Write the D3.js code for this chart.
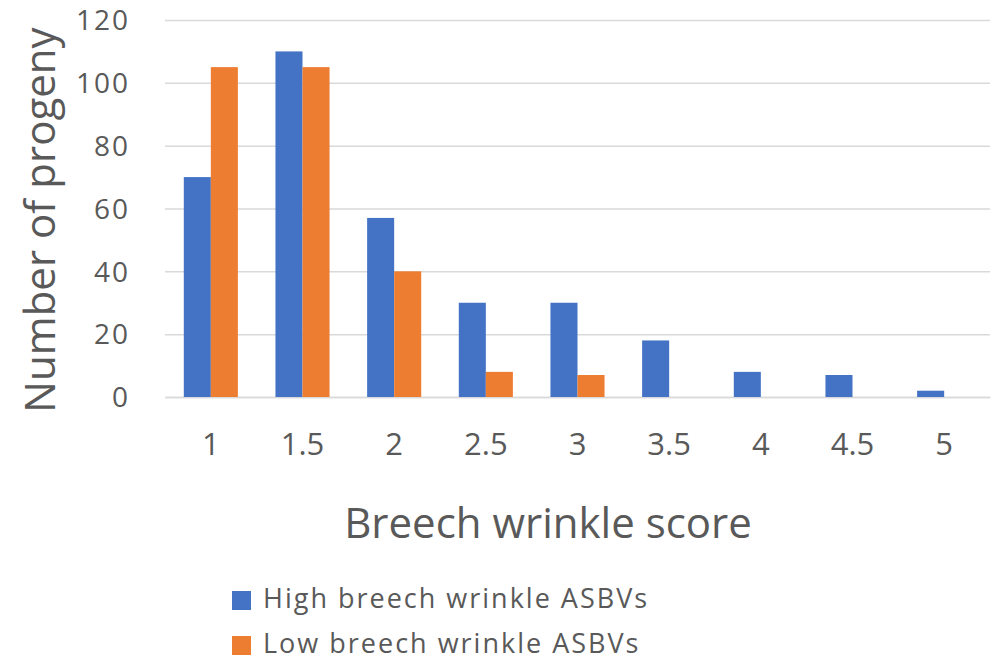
<!DOCTYPE html>
<html>
<head>
<meta charset="utf-8">
<script src="https://cdn.jsdelivr.net/npm/d3@7"></script>
<style>
  body { margin: 0; background: #fff; }
  svg text { font-family: "Open Sans", "Noto Sans", sans-serif; fill: #595959; }
</style>
</head>
<body>
<div id="viz"></div>
<script>
var scores = ['1', '1.5', '2', '2.5', '3', '3.5', '4', '4.5', '5'],
    highValues = [70, 110, 57, 30, 30, 18, 8, 7, 2],
    lowValues = [105, 105, 40, 8, 7, 0, 0, 0, 0],
    seriesNames = ['High breech wrinkle ASBVs', 'Low breech wrinkle ASBVs'],
    yTicks = [0, 20, 40, 60, 80, 100, 120];

var width = 994,
    height = 660,
    margin = { top: 20, right: 4, bottom: 263, left: 165 },
    colours = ['#4472C4', '#ED7D31'];

var svg = d3.select('#viz').append('svg')
    .attr('width', width)
    .attr('height', height)

var xScale = d3.scaleBand()
    .domain(scores)
    .range([margin.left, width - margin.right])
    .paddingInner(0.41)
    .paddingOuter(0.205)

var xSeries = d3.scaleBand()
    .domain([0, 1])
    .range([0, xScale.bandwidth()])

var yScale = d3.scaleLinear()
    .domain([0, 120])
    .range([height - margin.bottom, margin.top])

// gridlines + y labels
var yAxis = d3.axisLeft(yScale)
    .tickValues(yTicks)
    .tickSize(-(width - margin.right - margin.left))
    .tickPadding(35)

var yGuide = svg.append('g')
    .attr('transform', 'translate(' + margin.left + ',0)')
    .call(yAxis)
yGuide.select('.domain').remove()
yGuide.selectAll('line').attr('stroke', '#d9d9d9').attr('stroke-width', 1.5)
yGuide.selectAll('text')
    .attr('font-size', 28)
    .attr('letter-spacing', 2)
    .style('fill', '#595959')
    .attr('dy', '0.35em')

var xAxis = d3.axisBottom(xScale).tickSize(0).tickPadding(36)
var xGuide = svg.append('g')
    .attr('transform', 'translate(0,' + (height - margin.bottom) + ')')
    .call(xAxis)
xGuide.select('.domain').attr('stroke', '#d9d9d9').attr('stroke-width', 1.5)
xGuide.selectAll('text')
    .attr('font-size', 31)
    .style('fill', '#595959')

// bars
var series = [highValues, lowValues];
series.forEach(function(vals, s) {
    svg.append('g').selectAll('rect')
        .data(vals)
        .enter().append('rect')
        .attr('x', function(d, i) { return xScale(scores[i]) + xSeries(s) })
        .attr('width', xSeries.bandwidth())
        .attr('y', function(d) { return yScale(d) })
        .attr('height', function(d) { return yScale(0) - yScale(d) })
        .attr('fill', colours[s])
})

// axis titles
svg.append('text')
    .attr('x', 548)
    .attr('y', 538)
    .attr('text-anchor', 'middle')
    .attr('font-size', 42)
    .text('Breech wrinkle score')

svg.append('text')
    .attr('transform', 'translate(55,220) rotate(-90)')
    .attr('text-anchor', 'middle')
    .attr('font-size', 42)
    .text('Number of progeny')

// legend
var legend = svg.append('g').selectAll('g')
    .data(seriesNames)
    .enter().append('g')
    .attr('transform', function(d, i) { return 'translate(232,' + (591 + i * 45) + ')' })

legend.append('rect')
    .attr('width', 19)
    .attr('height', 19)
    .attr('fill', function(d, i) { return colours[i] })

legend.append('text')
    .attr('x', 31)
    .attr('y', 17)
    .attr('font-size', 27)
    .attr('letter-spacing', 2)
    .text(function(d) { return d })
</script>
</body>
</html>
